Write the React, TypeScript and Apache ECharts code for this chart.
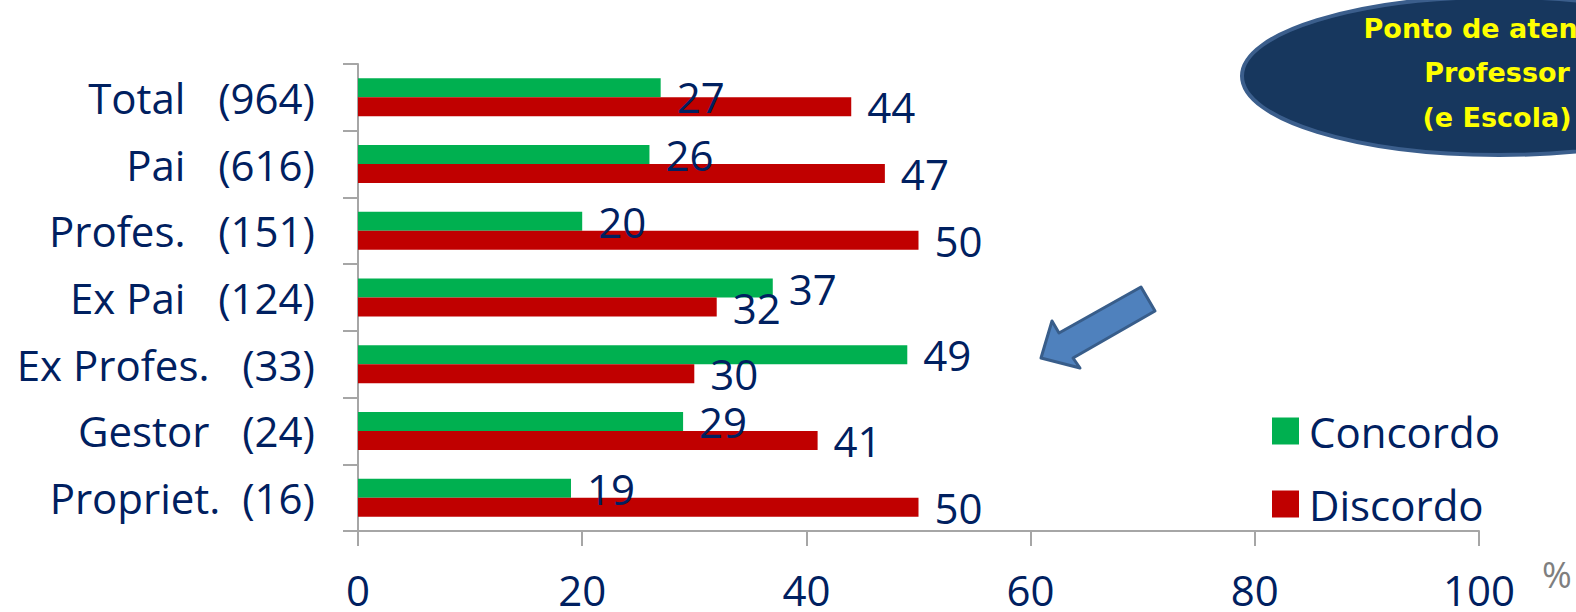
import React, { useEffect, useRef } from "react";
import * as echarts from "echarts";

const categories = [
  "Total   (964)",
  "Pai   (616)",
  "Profes.   (151)",
  "Ex Pai   (124)",
  "Ex Profes.   (33)",
  "Gestor   (24)",
  "Propriet.  (16)",
];
const concordo = [27, 26, 20, 37, 49, 29, 19];
const discordo = [44, 47, 50, 32, 30, 41, 50];
const xTicks = [0, 20, 40, 60, 80, 100];
const calloutLines = ["Ponto de atenção", "Professor", "(e Escola)"];

const FONT = "Open Sans";
const NAVY = "#002060";
const AXIS = "#a6a6a6";
const FS = 42;

export default function App() {
  const ref = useRef<HTMLDivElement>(null);
  useEffect(() => {
    document.body.style.margin = "0";
    const chart = echarts.init(ref.current!, null, { renderer: "svg" });
    const labelBase = {
      show: true,
      position: "right",
      distance: 16,
      fontSize: FS,
      lineHeight: 34,
      fontFamily: FONT,
      color: NAVY,
    };
    chart.setOption({
      animation: false,
      grid: { left: 358, right: 97, top: 64, bottom: 81 },
      legend: {
        orient: "vertical",
        left: 1267,
        top: 405,
        itemWidth: 27,
        itemHeight: 27,
        itemGap: 31,
        icon: "rect",
        textStyle: {
          fontSize: FS,
          lineHeight: 42,
          fontFamily: FONT,
          color: NAVY,
          padding: [0, 0, 0, 5],
        },
        data: ["Concordo", "Discordo"],
      },
      xAxis: {
        type: "value",
        min: xTicks[0],
        max: xTicks[xTicks.length - 1],
        interval: 20,
        axisLine: { show: true, lineStyle: { color: AXIS, width: 2 } },
        axisTick: { show: true, length: 15, lineStyle: { color: AXIS, width: 2 } },
        splitLine: { show: false },
        axisLabel: {
          margin: 41,
          fontSize: FS,
          lineHeight: 34,
          fontFamily: FONT,
          color: NAVY,
        },
      },
      yAxis: {
        type: "category",
        inverse: true,
        data: categories,
        axisLine: { show: true, lineStyle: { color: AXIS, width: 2 } },
        axisTick: { show: true, length: 15, lineStyle: { color: AXIS, width: 2 } },
        axisLabel: {
          margin: 43,
          fontSize: FS,
          fontFamily: FONT,
          color: NAVY,
        },
      },
      series: [
        {
          name: "Concordo",
          type: "bar",
          barWidth: 19,
          barGap: "0%",
          itemStyle: { color: "#00b050" },
          label: labelBase,
          data: concordo.map((v, i) =>
            i === 0 ? { value: v, label: { offset: [0, 9] } } : v
          ),
        },
        {
          name: "Discordo",
          type: "bar",
          barWidth: 19,
          barGap: "0%",
          itemStyle: { color: "#c00000" },
          label: labelBase,
          data: discordo,
        },
      ],
      graphic: [
        {
          type: "ellipse",
          shape: { cx: 1499, cy: 76, rx: 257, ry: 79 },
          style: { fill: "#17375e", stroke: "#3b5e8c", lineWidth: 4 },
          z: 10,
        },
        ...calloutLines.map((t, i) => ({
          type: "text",
          x: 1497,
          y: 28 + i * 44.5,
          z: 11,
          style: {
            text: t,
            fill: "#ffff00",
            fontSize: 27,
            fontWeight: "bold",
            fontFamily: "DejaVu Sans",
            align: "center",
            verticalAlign: "middle",
          },
        })),
        {
          type: "polygon",
          shape: {
            points: [
              [1041, 358],
              [1052, 321],
              [1059, 333],
              [1141, 287],
              [1155, 311],
              [1073, 358],
              [1080, 368],
            ],
          },
          style: { fill: "#4f81bd", stroke: "#385d8a", lineWidth: 3, lineJoin: "round" },
          z: 10,
        },
        {
          type: "text",
          x: 1542,
          y: 574,
          style: {
            text: "%",
            fill: "#7f7f7f",
            fontSize: 36,
            fontFamily: FONT,
            align: "left",
            verticalAlign: "middle",
          },
        },
      ],
    });
    return () => chart.dispose();
  }, []);
  return (
    <div
      ref={ref}
      style={{ position: "absolute", left: 0, top: 0, width: 1576, height: 612 }}
    />
  );
}
